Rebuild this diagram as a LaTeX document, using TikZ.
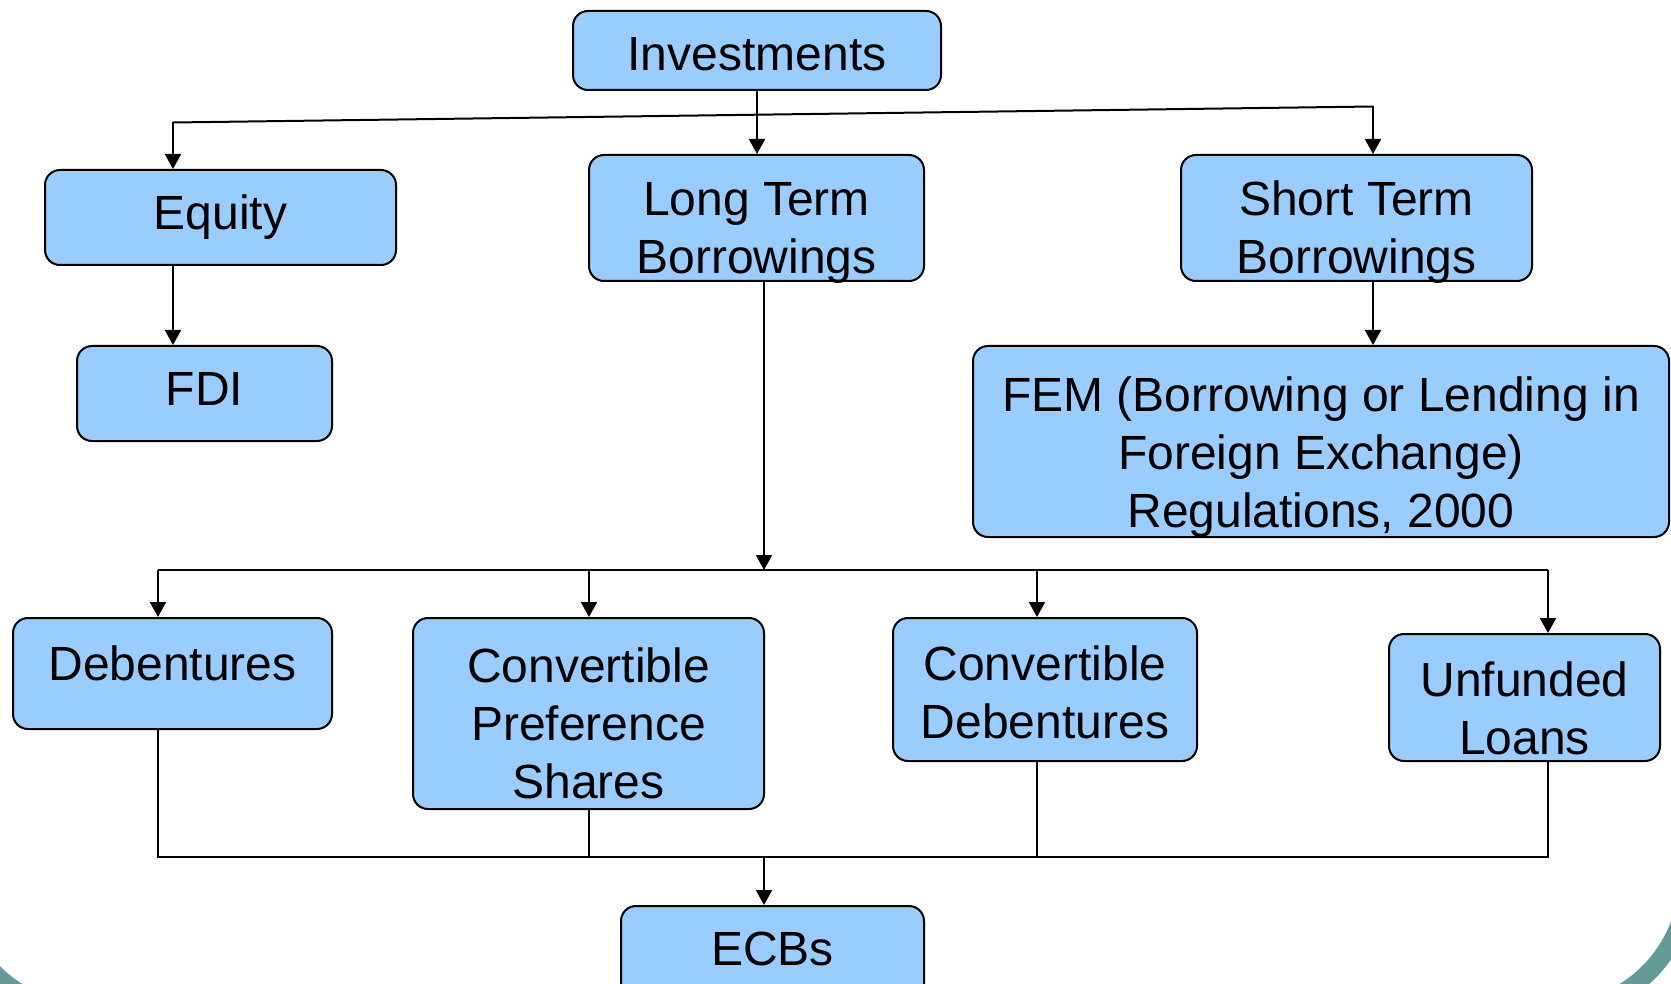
\documentclass[tikz,border=0pt]{standalone}
\usepackage{fontspec}
\setmainfont{Liberation Sans}
\usetikzlibrary{arrows.meta}
\definecolor{boxfill}{RGB}{153,204,255}
\definecolor{frameteal}{RGB}{100,155,152}
\newcommand\txdown[1]{\rule{0pt}{#1}}
\newcommand\txup[1]{\rule[-#1]{0pt}{0pt}}
\tikzset{
  box/.style={draw=black, line width=1pt, fill=boxfill, rounded corners=7.5pt,
    align=center, inner sep=0pt, font=\fontsize{24}{29}\selectfont},
  conn/.style={draw=black, line width=1pt},
  arr/.style={conn, -{Triangle[length=7.5pt,width=8pt]}}
}
\begin{document}
\begin{tikzpicture}[x=0.5pt,y=-0.5pt]
\useasboundingbox (0,0) rectangle (1671,984);
% slide frame
\begin{scope}
\clip (0,0) rectangle (1671,984);
\draw[frameteal, line width=9pt] (1688,700) -- (1688,877)
  arc[start angle=0, end angle=-90, radius=67.5pt] -- (89,1012)
  arc[start angle=-90, end angle=-180, radius=67.5pt] -- (-46,700);
\end{scope}
% nodes
\node[box, minimum width=184pt, minimum height=39.5pt] (inv) at (757,50.5) {\txdown{20.7pt}Investments};
\node[box, minimum width=175.5pt, minimum height=47.5pt] (eq) at (220.5,217.5) {Equity};
\node[box, minimum width=127.5pt, minimum height=47.5pt] (fdi) at (204.5,393.5) {FDI\txup{4.3pt}};
\node[box, minimum width=167.5pt, minimum height=63pt, text depth=0pt] (lt) at (756.5,218) {\txdown{26.4pt}Long Term\\Borrowings};
\node[box, minimum width=175.5pt, minimum height=63pt, text depth=0pt] (st) at (1356.5,218) {\txdown{26.4pt}Short Term\\Borrowings};
\node[box, minimum width=348pt, minimum height=95.5pt, text depth=0pt] (fem) at (1321,441.5) {\txdown{27.5pt}FEM (Borrowing or Lending in\\Foreign Exchange)\\Regulations, 2000};
\node[box, minimum width=159.5pt, minimum height=55.5pt] (deb) at (172.5,673.5) {Debentures\txup{10.7pt}};
\node[box, minimum width=175.5pt, minimum height=95.5pt] (cps) at (588.5,713.5) {\txdown{27pt}Convertible\\Preference\\Shares};
\node[box, minimum width=152pt, minimum height=71.5pt] (cd) at (1045,689.5) {\txdown{20.7pt}Convertible\\Debentures};
\node[box, minimum width=135.5pt, minimum height=63.5pt] (ul) at (1524.5,697.5) {\txdown{28.2pt}Unfunded\\Loans};
\node[box, minimum width=151.5pt, minimum height=47.5pt] (ecb) at (772.5,953.5) {ECBs\txup{4.3pt}};
% top distribution
\coordinate (tl) at (173,122.5);
\coordinate (tr) at (1373,106.5);
\draw[arr] (inv.south) -- (inv.south |- lt.north);
\draw[conn] (tl) -- (tr);
\draw[arr] (tl) -- (tl |- eq.north);
\draw[arr] (tr) -- (tr |- st.north);
\draw[arr] (tl |- eq.south) -- (tl |- fdi.north);
\draw[arr] (tr |- st.south) -- (tr |- fem.north);
% long term bus
\coordinate (ltx) at (764,0);
\coordinate (b1) at (764,570);
\draw[arr] (ltx |- lt.south) -- (b1);
\coordinate (bl) at (158,570);
\coordinate (br) at (1548,570);
\coordinate (xcps) at (589,570);
\coordinate (xcd) at (1037,570);
\draw[conn] (bl) -- (br);
\draw[arr] (bl) -- (bl |- deb.north);
\draw[arr] (xcps) -- (xcps |- cps.north);
\draw[arr] (xcd) -- (xcd |- cd.north);
\draw[arr] (br) -- (br |- ul.north);
% bottom bus
\coordinate (dl) at (158,857);
\coordinate (dr) at (1548,857);
\coordinate (dm) at (764,857);
\draw[conn] (bl |- deb.south) -- (dl) -- (dr) -- (br |- ul.south);
\draw[conn] (xcps |- cps.south) -- (xcps |- dl);
\draw[conn] (xcd |- cd.south) -- (xcd |- dl);
\draw[arr] (dm) -- (dm |- ecb.north);
\end{tikzpicture}
\end{document}
